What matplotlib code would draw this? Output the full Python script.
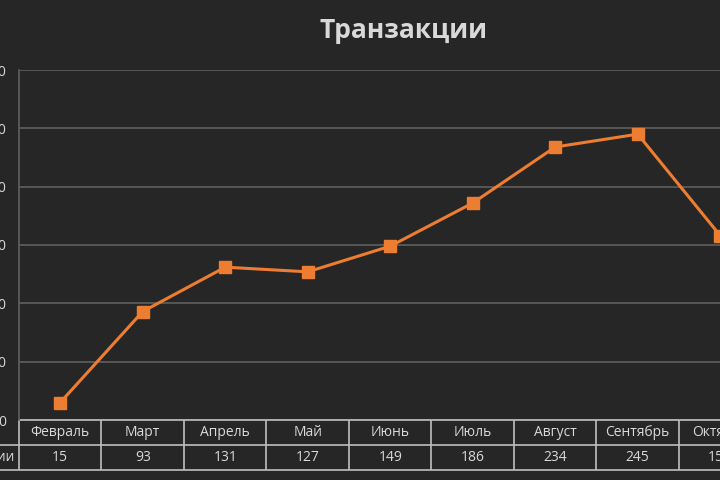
import matplotlib.pyplot as plt
import matplotlib.transforms as mtrans

plt.rcParams['font.family'] = ['Open Sans', 'DejaVu Sans']

# data
months = ["Февраль", "Март", "Апрель", "Май", "Июнь", "Июль", "Август", "Сентябрь", "Октябрь"]
values = [15, 93, 131, 127, 149, 186, 234, 245, 158]
series_name = "Транзакции"
y_ticks = [0, 50, 100, 150, 200, 250, 300]

bg = "#262626"
txt = "#d9d9d9"
grid_c = "#5f5f5f"
tab_c = "#bfbfbf"
orange = "#ED7D31"

fig = plt.figure(figsize=(7.2, 4.8), dpi=100, facecolor=bg)
# axes deliberately wider than the figure: the reference is cropped on the right
ax = fig.add_axes([19/720, 60/480, 742.5/720, 350/480], facecolor=bg)

x = list(range(len(months)))
ax.plot(x, values, color=orange, lw=2.2, marker="s", ms=8.5, zorder=3)

ax.set_xlim(-0.5, len(months) - 0.5)
ax.set_ylim(0, 300)
ax.set_yticks(y_ticks)
ax.set_yticklabels([str(v) for v in y_ticks], color=txt, fontsize=10)
ax.tick_params(axis="y", length=0, pad=9)
ax.set_xticks([])
ax.grid(axis="y", color=grid_c, lw=1.2)
for s in ["top", "right", "bottom"]:
    ax.spines[s].set_visible(False)
ax.spines["left"].set_color(grid_c)
ax.spines["left"].set_linewidth(1.2)

# data table under the plot
tr = mtrans.blended_transform_factory(ax.transData, ax.transAxes)
rh = 25 / 350
ax.hlines([0], -0.5, len(months) - 0.5, transform=tr, color=tab_c, lw=1.2, clip_on=False)
ax.hlines([-rh, -2 * rh], -1.5, len(months) - 0.5, transform=tr, color=tab_c, lw=1.2, clip_on=False)
ax.vlines([i - 0.5 for i in range(len(months) + 1)], -2 * rh, 0, transform=tr,
          color=tab_c, lw=1.2, clip_on=False)
for i, (m, v) in enumerate(zip(months, values)):
    ax.text(i, -rh / 2, m, transform=tr, ha="center", va="center", color=txt, fontsize=10, clip_on=False)
    ax.text(i, -1.5 * rh, str(v), transform=tr, ha="center", va="center", color=txt, fontsize=10, clip_on=False)
ax.text(-0.54, -1.5 * rh, series_name, transform=tr, ha="right", va="center", color=txt, fontsize=10, clip_on=False)

fig.text(403/720, 1 - 31/480, series_name, ha="center", va="center", color=txt,
         fontsize=19, fontweight="bold")

fig.savefig("out.png", dpi=100, facecolor=bg)
